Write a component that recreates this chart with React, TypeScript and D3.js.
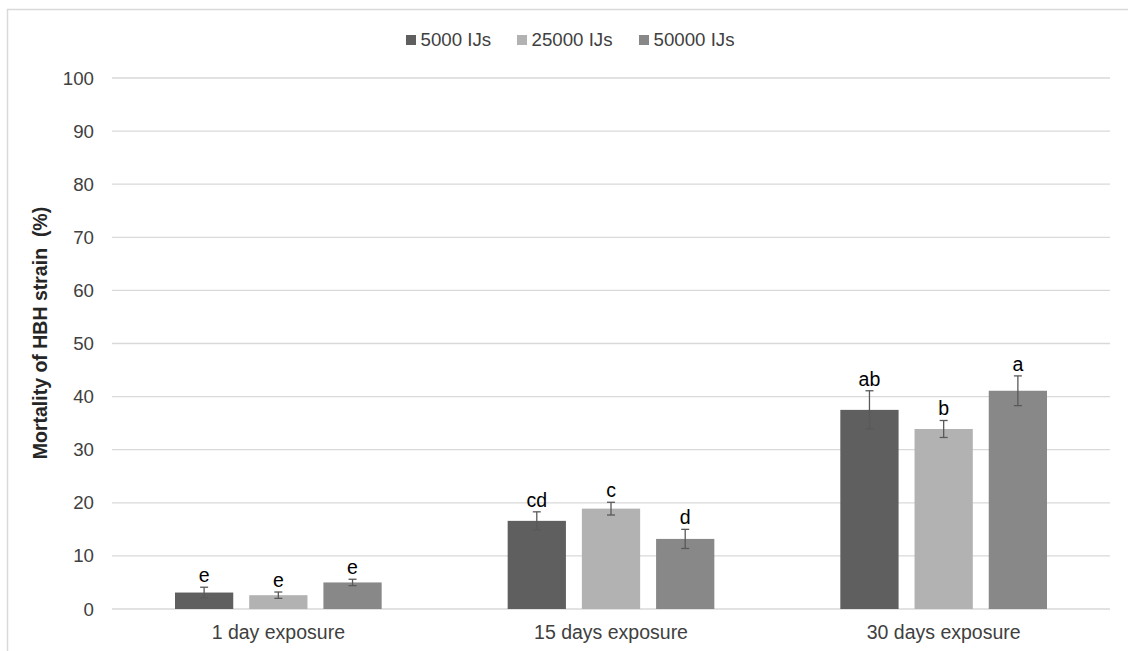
import { useRef, useEffect } from 'react';
import * as d3 from 'd3';

const CATEGORIES = ['1 day exposure', '15 days exposure', '30 days exposure'];
const SERIES = ['5000 IJs', '25000 IJs', '50000 IJs'];
const COLORS = ['#5f5f5f', '#b2b2b2', '#888888'];

// values per series, one per category
const MEANS = [
  [3.1, 16.6, 37.5],
  [2.6, 18.9, 33.9],
  [5.0, 13.2, 41.1],
];
const ERRORS = [
  [1.0, 1.7, 3.6],
  [0.6, 1.2, 1.6],
  [0.6, 1.8, 2.8],
];
const LETTERS = [
  ['e', 'cd', 'ab'],
  ['e', 'c', 'b'],
  ['e', 'd', 'a'],
];
const Y_TICKS = [0, 10, 20, 30, 40, 50, 60, 70, 80, 90, 100];

const W = 1128;
const H = 651;
const FONT = '"Liberation Sans", Arial, sans-serif';

export default function App() {
  const svgRef = useRef<SVGSVGElement>(null);

  useEffect(() => {
    const svg = d3.select(svgRef.current);
    svg.selectAll('*').remove();

    const left = 112;
    const right = 1110;
    const top = 78;
    const bottom = 609;

    svg.append('rect').attr('width', W).attr('height', H).attr('fill', '#fff');

    // frame lines (top and left)
    svg.append('line').attr('x1', 7).attr('x2', W).attr('y1', 9.5).attr('y2', 9.5)
      .attr('stroke', '#d9d9d9').attr('stroke-width', 1.5);
    svg.append('line').attr('x1', 7.5).attr('x2', 7.5).attr('y1', 9).attr('y2', H)
      .attr('stroke', '#d9d9d9').attr('stroke-width', 1.5);

    const y = d3.scaleLinear().domain([0, 100]).range([bottom, top]);
    const x0 = d3.scaleBand().domain(CATEGORIES).range([left, right]).paddingInner(0).paddingOuter(0);
    const x1 = d3.scaleBand().domain(SERIES).range([63, x0.bandwidth() - 63]).paddingInner(0.215);

    // grid
    svg.append('g').selectAll('line').data(Y_TICKS).join('line')
      .attr('x1', left).attr('x2', right)
      .attr('y1', (d) => y(d)).attr('y2', (d) => y(d))
      .attr('stroke', '#d9d9d9').attr('stroke-width', 1.3);

    // y tick labels
    svg.append('g').selectAll('text').data(Y_TICKS).join('text')
      .attr('x', 94).attr('y', (d) => y(d)).attr('dy', '0.35em')
      .attr('text-anchor', 'end').attr('font-family', FONT).attr('font-size', 18.7)
      .attr('fill', '#404040').text((d) => d);

    // y axis title
    svg.append('text')
      .attr('transform', `translate(47,333) rotate(-90)`)
      .attr('text-anchor', 'middle').attr('font-family', FONT).attr('font-size', 19.5)
      .attr('font-weight', 'bold').attr('fill', '#262626')
      .attr('xml:space', 'preserve')
      .text('Mortality of HBH strain  (%)');

    // bars
    const g = svg.append('g');
    SERIES.forEach((s, si) => {
      CATEGORIES.forEach((c, ci) => {
        const bx = (x0(c) ?? 0) + (x1(s) ?? 0);
        const bw = x1.bandwidth();
        const v = MEANS[si][ci];
        const e = ERRORS[si][ci];
        const cx = bx + bw / 2;
        g.append('rect')
          .attr('x', bx).attr('y', y(v)).attr('width', bw).attr('height', y(0) - y(v))
          .attr('fill', COLORS[si]);
        // error bar
        g.append('line').attr('x1', cx).attr('x2', cx).attr('y1', y(v - e)).attr('y2', y(v + e))
          .attr('stroke', '#595959').attr('stroke-width', 1.3);
        [v - e, v + e].forEach((yy) => {
          g.append('line').attr('x1', cx - 4).attr('x2', cx + 4).attr('y1', y(yy)).attr('y2', y(yy))
            .attr('stroke', '#595959').attr('stroke-width', 1.3);
        });
        g.append('text')
          .attr('x', cx).attr('y', y(v + e) - 5)
          .attr('text-anchor', 'middle').attr('font-family', FONT).attr('font-size', 19.5)
          .attr('fill', '#000').text(LETTERS[si][ci]);
      });
    });

    // category labels
    svg.append('g').selectAll('text').data(CATEGORIES).join('text')
      .attr('x', (d) => (x0(d) ?? 0) + x0.bandwidth() / 2).attr('y', 639)
      .attr('text-anchor', 'middle').attr('font-family', FONT).attr('font-size', 19.5)
      .attr('fill', '#404040').text((d) => d);

    // legend
    const legendX = [406, 517, 639];
    const lg = svg.append('g');
    SERIES.forEach((s, i) => {
      lg.append('rect').attr('x', legendX[i]).attr('y', 35).attr('width', 10).attr('height', 10)
        .attr('fill', COLORS[i]);
      lg.append('text').attr('x', legendX[i] + 14.5).attr('y', 46.3)
        .attr('font-family', FONT).attr('font-size', 18.7).attr('fill', '#404040').text(s);
    });
  }, []);

  return (
    <div style={{ position: 'absolute', left: 0, top: 0 }}>
      <svg ref={svgRef} width={W} height={H} style={{ display: 'block' }} />
    </div>
  );
}
